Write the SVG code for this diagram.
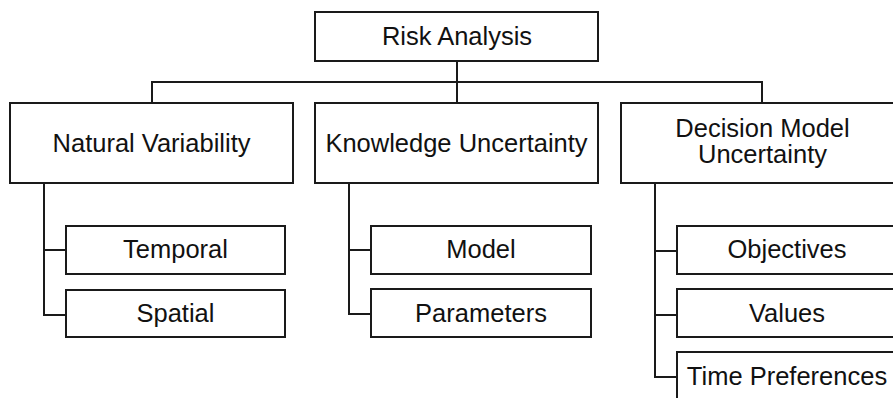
<svg xmlns="http://www.w3.org/2000/svg" width="893" height="398" viewBox="0 0 893 398">
<style>
rect{fill:#fff;stroke:#1a1a1a;stroke-width:2}
.c{fill:none;stroke:#1a1a1a;stroke-width:2}
text{font-family:"Liberation Sans",Arial,sans-serif;font-size:25.5px;fill:#111;text-anchor:middle}
</style>
<rect x="0" y="0" width="893" height="398" style="stroke:none"/>
<g id="connectors">
<path class="c" d="M457 61V103M152 103V82H762V103"/>
<path class="c" d="M44 183V315H66M44 250H66"/>
<path class="c" d="M349 183V314H371M349 250H371"/>
<path class="c" d="M655 183V377H677M655 251H677M655 315H677"/>
</g>
<g id="risk"><rect x="315" y="12" width="283" height="49"/><text x="457" y="45">Risk Analysis</text></g>
<g id="natural"><rect x="10" y="103" width="283" height="80"/><text x="151.5" y="152">Natural Variability</text></g>
<g id="knowledge"><rect x="315" y="103" width="283" height="80"/><text x="456.5" y="152">Knowledge Uncertainty</text></g>
<g id="decision"><rect x="621" y="103" width="283" height="80"/><text x="762.5" y="137">Decision Model</text><text x="762.5" y="163">Uncertainty</text></g>
<g id="temporal"><rect x="66" y="226" width="219" height="48"/><text x="175.5" y="258">Temporal</text></g>
<g id="spatial"><rect x="66" y="290" width="219" height="47"/><text x="175.5" y="322">Spatial</text></g>
<g id="model"><rect x="371" y="226" width="220" height="48"/><text x="481" y="258">Model</text></g>
<g id="parameters"><rect x="371" y="289" width="220" height="48"/><text x="481" y="322">Parameters</text></g>
<g id="objectives"><rect x="677" y="226" width="220" height="48"/><text x="787" y="258">Objectives</text></g>
<g id="values"><rect x="677" y="289" width="220" height="48"/><text x="787" y="322">Values</text></g>
<g id="time"><rect x="677" y="352" width="220" height="60"/><text x="787" y="385">Time Preferences</text></g>
</svg>
